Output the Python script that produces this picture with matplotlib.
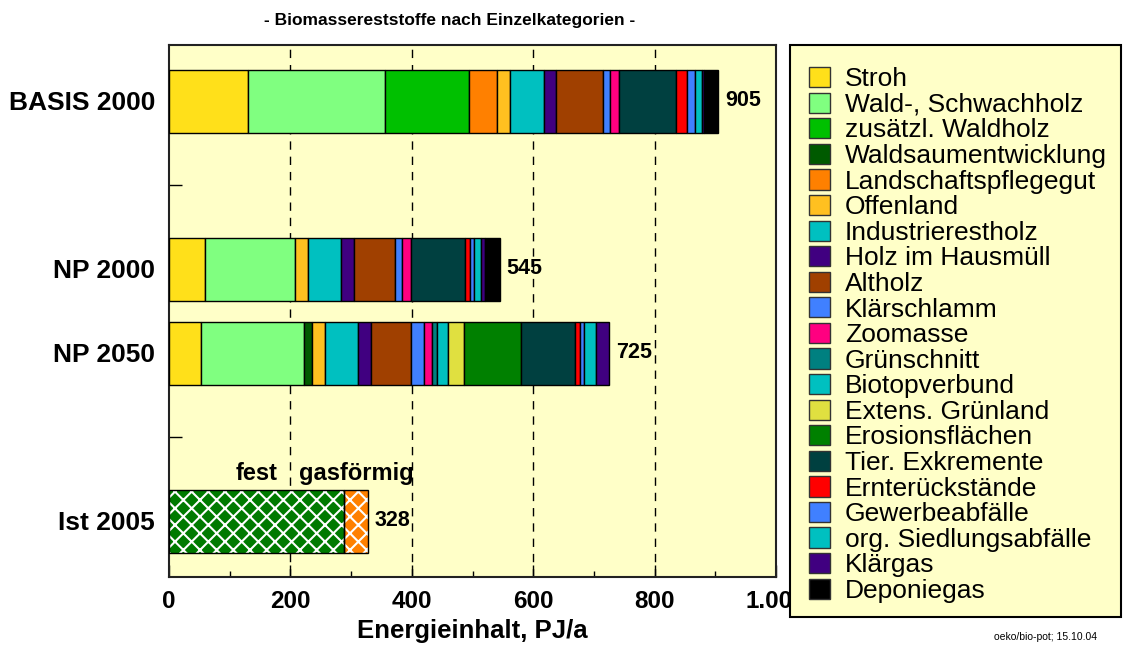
import matplotlib
matplotlib.use("Agg")
import matplotlib.pyplot as plt
from matplotlib.patches import Rectangle, Patch
import numpy as np

plt.rcParams['font.family'] = ['Liberation Sans', 'DejaVu Sans']

# ---------------- data ----------------
scenarios = ['BASIS 2000', 'NP 2000', 'NP 2050']
scenario_slots = [0, 2, 3]
categories = ['Stroh', 'Wald-, Schwachholz', 'zusätzl. Waldholz', 'Waldsaumentwicklung',
              'Landschaftspflegegut', 'Offenland', 'Industrierestholz', 'Holz im Hausmüll',
              'Altholz', 'Klärschlamm', 'Zoomasse', 'Grünschnitt', 'Biotopverbund',
              'Extens. Grünland', 'Erosionsflächen', 'Tier. Exkremente', 'Ernterückstände',
              'Gewerbeabfälle', 'org. Siedlungsabfälle', 'Klärgas', 'Deponiegas']
colors = ['#FFE01A', '#80FF80', '#00C000', '#005A00', '#FF8000', '#FFC020', '#00C0C0',
          '#400080', '#A04000', '#4080FF', '#FF0080', '#008080', '#00C0C0', '#E0E040',
          '#008000', '#004040', '#FF0000', '#4080FF', '#00C0C0', '#400080', '#000000']
basis_2000 = [130, 226, 139, 0, 45, 22, 55, 20, 78, 11, 15, 0, 0, 0, 0, 95, 17, 13, 12, 3, 24]
np_2000 = [59, 148, 0, 0, 0, 22, 55, 21, 68, 11, 15, 0, 0, 0, 0, 89, 8, 6, 12, 7, 24]
np_2050 = [53, 170, 0, 12, 0, 22, 55, 20, 67, 21, 14, 8, 18, 26, 94, 89, 8, 6, 20, 22, 0]
totals = [905, 545, 725]

ist_label = 'Ist 2005'
ist_slot = 5
ist_parts = ['fest', 'gasförmig']
ist_values = [288, 40]
ist_colors = ['#007A00', '#FF8000']
ist_total = 328

ytick_slots = [0, 1, 2, 3, 4, 5]
ytick_labels = ['BASIS 2000', '', 'NP 2000', 'NP 2050', '', 'Ist 2005']
xticks = [0, 200, 400, 600, 800, 1000]
xtick_labels = ['0', '200', '400', '600', '800', '1.000']

# ---------------- figure ----------------
W, H = 1124, 648
fig = plt.figure(figsize=(W / 100, H / 100), dpi=100)
fig.patch.set_facecolor('white')
bg = '#FFFFC8'
ax = fig.add_axes([169 / W, (H - 577) / H, (776 - 169) / W, (577 - 45) / H])
ax.set_facecolor(bg)

bar_h = 0.75
series = [basis_2000, np_2000, np_2050]
for si, (vals, slot) in enumerate(zip(series, scenario_slots)):
    left = 0
    for v, c in zip(vals, colors):
        if v > 0:
            ax.barh(slot, v, left=left, height=bar_h, color=c, edgecolor='black',
                    linewidth=1.0, zorder=3)
        left += v
    ax.annotate(str(totals[si]), xy=(left, slot), xytext=(5, 0), textcoords='offset points',
                va='center', ha='left', fontsize=15.5, fontweight='bold', zorder=5)

plt.rcParams['hatch.linewidth'] = 1.5
left = 0
for part, v, c in zip(ist_parts, ist_values, ist_colors):
    ax.barh(ist_slot, v, left=left, height=bar_h, color=c, edgecolor='white',
            hatch='xx', linewidth=0, zorder=3)
    ax.barh(ist_slot, v, left=left, height=bar_h, fill=False, edgecolor='black',
            linewidth=1.0, zorder=4)
    ax.text(left + v / 2, ist_slot - bar_h / 2 - 0.05, part, ha='center', va='bottom',
            fontsize=17, fontweight='bold', zorder=5)
    left += v
ax.annotate(str(ist_total), xy=(left, ist_slot), xytext=(5, 0), textcoords='offset points',
            va='center', ha='left', fontsize=15.5, fontweight='bold', zorder=5)

ax.set_xlim(0, 1000)
ax.set_ylim(5 + 56 / 84, -56 / 84)
ax.set_xticks(xticks)
ax.set_xticklabels(xtick_labels, fontsize=17.5, fontweight='bold')
ax.set_xticks([100, 300, 500, 700, 900], minor=True)
ax.set_yticks(ytick_slots)
ax.set_yticklabels(ytick_labels, fontsize=19, fontweight='bold')
ax.tick_params(axis='x', which='major', direction='in', length=9, width=1, pad=9)
ax.tick_params(axis='x', which='minor', direction='in', length=4.5, width=1)
ax.tick_params(axis='y', direction='in', length=9, width=1, pad=10)
for x in [200, 400, 600, 800]:
    ax.axvline(x, color='black', linestyle=(0, (6, 5)), linewidth=1, zorder=1)
for s in ax.spines.values():
    s.set_linewidth(1.5)
    s.set_color('#222222')

ax.set_xlabel('Energieinhalt, PJ/a', fontsize=18.5, fontweight='bold', labelpad=5)
fig.text(450 / W, 1 - 20 / H, '- Biomassereststoffe nach Einzelkategorien -', ha='center',
         va='center', fontsize=12.5, fontweight='bold')
fig.text(1097 / W, 1 - 637 / H, 'oeko/bio-pot; 15.10.04', ha='right', va='center', fontsize=7.5)

# legend box
box = Rectangle((790 / W, (H - 617) / H), (1121 - 790) / W, (617 - 45) / H,
                transform=fig.transFigure, facecolor=bg, edgecolor='black', linewidth=1.5,
                zorder=4)
fig.add_artist(box)
handles = [Patch(facecolor=c, edgecolor='#333333', linewidth=1.0) for c in colors]
leg = fig.legend(handles, categories, loc='upper left',
                 bbox_to_anchor=(809 / W, 1 - 67 / H), frameon=False, fontsize=19,
                 handlelength=0.8, handleheight=0.8, handletextpad=0.55,
                 labelspacing=0.05, borderpad=0, borderaxespad=0)
leg.set_zorder(5)

fig.savefig('out.png', dpi=100)
